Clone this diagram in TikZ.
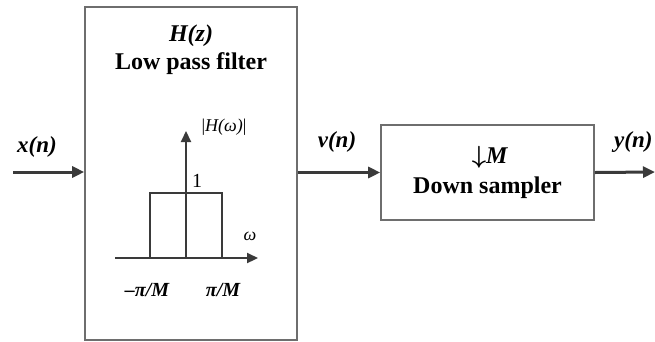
\documentclass[tikz,border=0pt]{standalone}
\usepackage{fontspec}
\setmainfont{Liberation Serif}
\usepackage{tikz}
\usetikzlibrary{positioning,arrows.meta}
\definecolor{boxgray}{HTML}{6E6E6E}
\definecolor{sigline}{HTML}{3A3A3A}

\begin{document}
\begin{tikzpicture}[x=1pt,y=-1pt,
 block/.style={draw=boxgray,line width=1.6pt,fill=white,inner sep=0pt},
 signal/.style={draw=sigline,line width=3pt,-{Triangle[length=12pt,width=11pt]}},
 axis/.style={draw=sigline,line width=2.2pt,-{Triangle[length=11pt,width=10pt]}},
 sig/.style={font=\fontsize{23}{26}\selectfont\bfseries\itshape},
 title/.style={font=\fontsize{24}{28}\selectfont\bfseries,align=center},
 tick/.style={font=\fontsize{20}{24}\selectfont\bfseries\itshape}]
\useasboundingbox (0,0) rectangle (655,341);

% The two blocks of the decimator.
\node[block,minimum width=212pt,minimum height=333pt] (filt) at (191,173.5) {};
\node[block,minimum width=213pt,minimum height=95pt] (down) at (487.5,172.5) {};
\node[title] (hz) at (191,36) {\textit{H(z)}};
\node[title] (lpf) at (191,64) {Low pass filter};
\node[title] (dm) at (490,157) {{\boldmath$\downarrow$}\textit{M}};
\node[title] (ds) at (487.5,188) {Down sampler};

% Signals between the blocks.
\coordinate (xin) at (13,172);
\coordinate (yout) at (655,172);
\draw[signal] (xin) -- (filt.west |- xin);
\draw[signal] (filt.east |- down.west) -- (down.west);
\draw[signal] (down.east) -- (yout);
\node[sig] (xn) at (37,147) {x(n)};
\node[sig] (vn) at (337,142) {v(n)};
\node[sig,anchor=east] (yn) at (656,142) {y(n)};

% Ideal low pass response inside the filter block.
\coordinate (org) at (186,258);
\draw[axis] (115,258) -- (258,258);
\draw[axis] (org) -- (186,131);
\draw[draw=sigline,line width=1.4pt] (150,258) -- (150,193) -- (222,193) -- (222,258);
\node[font=\fontsize{20}{24}\selectfont] (one) at (197,181) {1};
\node[font=\fontsize{18}{20}\selectfont\itshape] (mag) at (224,127) {\upshape|\itshape H(ω)\upshape|};
\node[font=\fontsize{18}{20}\selectfont\itshape] (om) at (250,236) {ω};
\node[tick] (lo) at (147,290) {–π/M};
\node[tick] (hi) at (223,290) {π/M};
\end{tikzpicture}
\end{document}
